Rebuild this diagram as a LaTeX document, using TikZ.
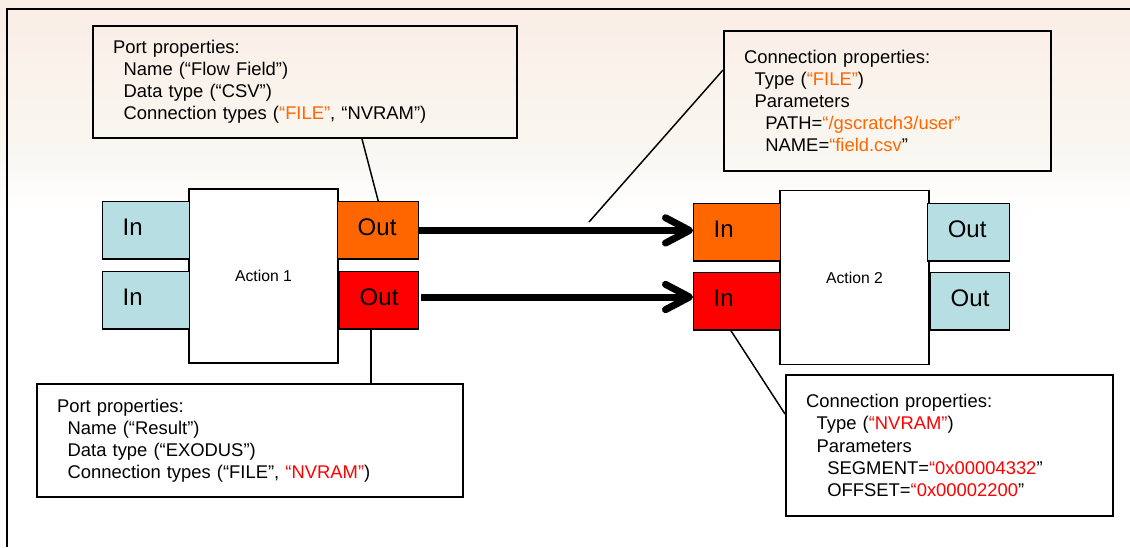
\documentclass[tikz,border=0pt]{standalone}
\usepackage{fontspec}
\setmainfont{Liberation Sans}
\usetikzlibrary{arrows.meta}

\definecolor{portblue}{RGB}{183,222,226}
\definecolor{portorange}{RGB}{255,102,0}
\definecolor{portred}{RGB}{255,0,0}
\definecolor{bgpeach}{RGB}{250,237,229}
\definecolor{bgpale}{RGB}{249,247,241}

\newcommand{\ora}[1]{\textcolor{portorange}{#1}}
\newcommand{\rd}[1]{\textcolor{portred}{#1}}
\newcommand{\lvlone}{\hspace*{8pt}}
\newcommand{\lvltwo}{\hspace*{16pt}}

\tikzset{every picture/.style={line width=0.75pt},
  infobox/.style={draw, line width=1.5pt, anchor=north west, inner xsep=15pt, inner ysep=0pt, align=left, font=\fontsize{13.8}{16.6}\selectfont},
  port/.style={draw, line width=1.1pt, anchor=north west, minimum height=43pt, inner xsep=15pt, inner ysep=0pt, text width=#1, text depth=4.5pt, align=left, font=\fontsize{18}{21}\selectfont},
  action/.style={draw, fill=white, line width=0.9pt, minimum width=111.75pt, minimum height=130.5pt, font=\fontsize{11.8}{14}\selectfont},
  leader/.style={line width=1.1pt},
  flow/.style={line width=5.25pt, -{Straight Barb[length=18pt, width=19pt, round]}}
}

\begin{document}
\begin{tikzpicture}[x=0.75pt,y=0.75pt,yscale=-1,xscale=1]
    \useasboundingbox (0,0) rectangle (1130,547);
    % Background
    \fill [top color=bgpeach, bottom color=bgpale] (0,0) rectangle (1130,150);
    \fill [top color=bgpale, bottom color=white] (0,150) rectangle (1130,215);
    \fill [white] (0,215) rectangle (1130,547);
    \draw [line width=1pt] (1130,9) -- (7,9) -- (7,547);
    % Action Node
    \node [action] (act1) at (263.5,276) {Action 1};
    \node [action] (act2) at (854.5,277.5) {Action 2};
    % Port Node
    \node [port=35.25pt, fill=portblue] (in1) at (102,201) {In};
    \node [port=35.25pt, fill=portblue] (in2) at (102,271) {In};
    \node [port=30.75pt, fill=portorange] (outA) at (337,201) {Out};
    \node [port=29.25pt, fill=portred] (outB) at (339,271) {Out};
    \node [port=35.25pt, fill=portorange] (inA) at (693,203) {In};
    \node [port=35.25pt, fill=portred] (inB) at (693,272) {In};
    \node [port=31.5pt, fill=portblue] (out1) at (927,203) {Out};
    \node [port=29.25pt, fill=portblue] (out2) at (930,272) {Out};
    % Text Node
    \node [infobox, text width=288pt, minimum height=84pt] (portTop) at (92,25) {Port properties:\\
      \lvlone Name (“Flow Field”)\\
      \lvlone Data type (“CSV”)\\
      \lvlone Connection types (\ora{“FILE”}, “NVRAM”)};
    % Text Node
    \node [infobox, text width=215.25pt, minimum height=105pt] (connTop) at (723,30) {Connection properties:\\
      \lvlone Type (\ora{“FILE”})\\
      \lvlone Parameters\\
      \lvltwo PATH=\ora{“/gscratch3/user”}\\
      \lvltwo NAME=\ora{“field.csv}”};
    % Text Node
    \node [infobox, text width=289.5pt, minimum height=84.75pt] (portBot) at (36,383) {Port properties:\\
      \lvlone Name (“Result”)\\
      \lvlone Data type (“EXODUS”)\\
      \lvlone Connection types (“FILE”, \rd{“NVRAM”})};
    % Text Node
    \node [infobox, text width=215.25pt, minimum height=105.75pt] (connBot) at (785,374) {Connection properties:\\
      \lvlone Type (\rd{“NVRAM”})\\
      \lvlone Parameters\\
      \lvltwo SEGMENT=\rd{“0x00004332}”\\
      \lvltwo OFFSET=\rd{“0x00002200}”};
    % Connection
    \draw [flow] (outA.east) -- (outA.east -| inA.west);
    \draw [flow] (421,297) -- (inB.west |- 421,297);
    % Connection
    \coordinate (fileLink) at (589,222);
    \draw [leader] (362,0 |- portTop.south) -- (outA.north);
    \draw [leader] (connTop.west |- 0,70) -- (fileLink);
    \draw [leader] (371,0 |- outB.south) -- (371,0 |- portBot.north);
    \draw [leader] (731,0 |- inB.south) -- (connBot.west |- 0,414);

\end{tikzpicture}
\end{document}
